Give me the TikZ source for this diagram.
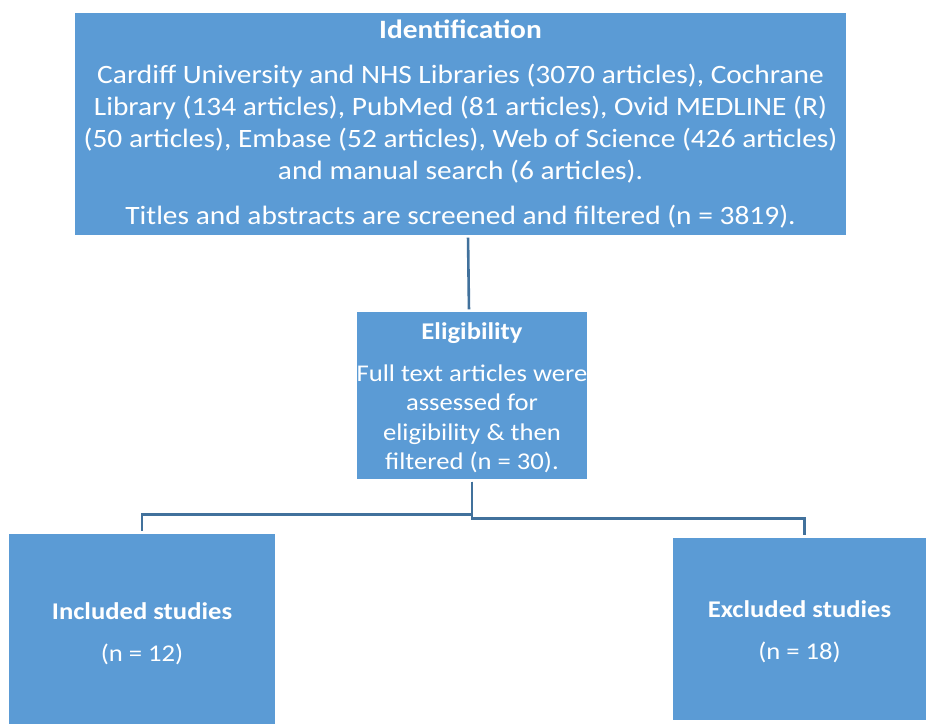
\documentclass[tikz,border=0pt]{standalone}
\usepackage{fontspec}
\setmainfont{Carlito}[FakeStretch=1.11]
\usetikzlibrary{calc}
\definecolor{boxblue}{HTML}{5B9BD5}
\definecolor{lineblue}{HTML}{41719C}

\begin{document}
\begin{tikzpicture}[x=1pt, y=-1pt,
  box/.style={fill=boxblue, text=white, align=center, inner sep=0pt},
  link/.style={lineblue, line width=2.6pt, shorten <=2.5pt, shorten >=2.5pt}]
\useasboundingbox (0,0) rectangle (926,724);
% boxes
\node[box, minimum width=771pt, minimum height=222pt, font=\fontsize{26.5}{32}\selectfont] (ident) at (460.5,124)
  {\textbf{Identification}\\[13pt]
   Cardiff University and NHS Libraries (3070 articles), Cochrane\\
   Library (134 articles), PubMed (81 articles), Ovid MEDLINE (R)\\
   (50 articles), Embase (52 articles), Web of Science (426 articles)\\
   and manual search (6 articles).\\[13pt]
   Titles and abstracts are screened and filtered (n = 3819).};
\node[box, minimum width=230pt, minimum height=167pt, font=\fontsize{24}{29.5}\selectfont] (elig) at (472,395.5)
  {\rule{0pt}{22pt}\textbf{Eligibility}\\[12pt]
   Full text articles were\\
   assessed for\\
   eligibility \& then\\
   filtered (n = 30).};
\node[box, minimum width=266pt, minimum height=190pt, font=\fontsize{24}{29}\selectfont] (incl) at (142,629)
  {\rule{0pt}{26pt}\textbf{Included studies}\\[13pt] (n = 12)};
\node[box, minimum width=253pt, minimum height=182pt, font=\fontsize{24}{29}\selectfont] (excl) at (799.5,629)
  {\rule{0pt}{22pt}\textbf{Excluded studies}\\[13pt] (n = 18)};
% connectors
\draw[link] (ident.south -| elig.north) ++(-4,0) -- ($(elig.north)+(-3,0)$);
\draw[link] (elig.south) -- ++(0,35) -| (incl.north);
\draw[link] (elig.south) -- ++(0,39) -| ($(excl.north)+(5,0)$);
\end{tikzpicture}
\end{document}
